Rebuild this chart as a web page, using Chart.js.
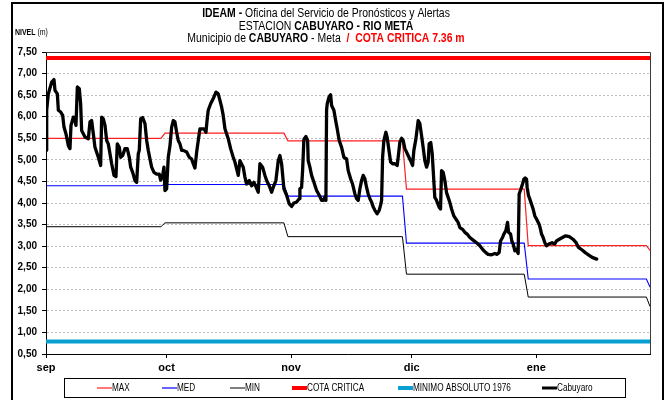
<!DOCTYPE html>
<html>
<head>
<meta charset="utf-8">
<script src="https://cdn.jsdelivr.net/npm/chart.js@4/dist/chart.umd.min.js"></script>
<style>
  html, body { margin: 0; padding: 0; background: #fff; }
  canvas { display: block; }
</style>
</head>
<body>
<canvas id="c" width="671" height="400"></canvas>
<script>
// ---- data: Cabuyaro station, Rio Meta (days counted from 1 September) ----
const monthLabels = ['sep', 'oct', 'nov', 'dic', 'ene'];
const monthStartDays = [0, 30, 61, 91, 122];
const yTickValues = [0.5, 1.0, 1.5, 2.0, 2.5, 3.0, 3.5, 4.0, 4.5, 5.0, 5.5, 6.0, 6.5, 7.0, 7.5];

// monthly reference levels (historical MAX / MED / MIN), stepping at month changes
const bandDays  = [0, 28.6, 29.6, 59.2, 60.2, 88.7, 89.7, 119, 120, 149.4, 150.3];
const maxLevels = [5.50, 5.50, 5.62, 5.62, 5.44, 5.44, 4.32, 4.32, 3.01, 3.01, 2.90];
const medLevels = [4.40, 4.40, 4.43, 4.43, 4.16, 4.16, 3.07, 3.07, 2.24, 2.24, 2.05];
const minLevels = [3.45, 3.45, 3.54, 3.54, 3.22, 3.22, 2.35, 2.35, 1.82, 1.82, 1.60];

const cotaCritica = 7.36;
const minimoAbsoluto1976 = 0.79;
const axisEndDay = 150.3;

// observed level at Cabuyaro
const cabuyaroDays = [
  0, 0.17, 0.58, 1.41, 1.99, 2.24, 2.82, 3.07, 3.65, 4.15, 4.48, 4.98, 5.56, 5.97, 6.22, 6.8, 7.21, 7.46, 7.80, 8.29,
  8.62, 8.87, 9.70, 10.53, 10.95, 11.36, 11.78, 12.19, 13.02, 13.6, 13.85, 14.26, 14.68, 15.1, 15.5, 15.92, 16.34, 16.92, 17.41, 17.74,
  18.24, 18.58, 19.08, 19.65, 20.22, 20.72, 21.07, 21.57, 22.14, 22.56, 22.96, 23.21, 23.56, 24.05, 24.63, 25.05, 25.45, 25.87, 26.29, 26.87,
  27.54, 28.18, 28.53, 29.03, 29.35, 29.6, 30.02, 30.42, 30.85, 31.27, 31.67, 32.09, 32.51, 32.91, 33.33, 33.76, 34.15, 35.0, 35.65, 36.24,
  36.64, 37.06, 37.49, 37.89, 38.31, 39.3, 39.8, 40.12, 40.37, 40.97, 41.62, 42.29, 42.86, 43.28, 43.71, 44.1, 44.53, 44.95, 45.35, 45.94,
  46.59, 47.01, 47.44, 47.84, 48.26, 49.08, 49.5, 49.92, 50.57, 51.17, 51.74, 52.24, 52.81, 53.23, 53.9, 54.48, 54.9, 55.55, 56.14, 56.54,
  57.21, 57.79, 58.21, 58.63, 59.2, 59.88, 60.52, 61.12, 61.69, 62.36, 63.0, 63.18, 63.6, 63.85, 64.18, 64.68, 65.1, 65.25, 65.67, 66.09,
  66.67, 67.34, 67.99, 68.58, 68.98, 69.4, 69.65, 69.82, 69.98, 70.47, 70.82, 71.07, 71.64, 72.14, 72.46, 72.96, 73.56, 74.13, 74.8, 75.2,
  75.8, 76.29, 76.87, 77.29, 77.69, 78.11, 78.53, 78.93, 79.35, 79.78, 80.17, 80.6, 81.02, 81.42, 81.84, 82.41, 82.91, 83.26, 83.51, 83.76,
  84.08, 84.58, 84.9, 85.4, 85.75, 86.24, 86.82, 87.39, 87.64, 88.06, 88.48, 88.88, 89.3, 90.12, 90.72, 91.22, 91.54, 92.04, 92.61, 93.03,
  93.46, 93.85, 94.28, 94.7, 95.1, 95.35, 95.75, 96.1, 96.45, 96.75, 97.1, 97.85, 98.18, 98.43, 98.83, 99.25, 99.67, 100.07, 100.5, 100.92,
  101.49, 101.99, 102.56, 102.99, 103.65, 104.23, 104.8, 105.47, 106.29, 107.14, 107.96, 108.78, 109.45, 110.02, 110.87, 111.69, 112.26, 112.76, 113.11, 113.6,
  113.93, 114.43, 114.85, 115.1, 115.6, 115.92, 116.25, 116.67, 117.09, 117.49, 117.74, 118.09, 118.58, 118.91, 119.23, 119.58, 119.73, 120.07, 120.4, 120.82,
  121.22, 121.64, 122.06, 122.71, 123.06, 123.31, 123.71, 124.13, 124.55, 125.10, 125.92, 126.59, 127.04, 127.73, 128.51, 129.32, 130.21, 131.13, 131.92, 132.50,
  133.41, 134.19, 134.98, 135.91, 137.03
];
const cabuyaroLevels = [
  5.22, 6.15, 6.53, 6.80, 6.86, 6.61, 6.53, 6.15, 6.11, 6.03, 5.76, 5.60, 5.33, 5.26, 5.80, 5.99, 5.91, 5.80, 6.69, 6.65,
  6.30, 5.68, 5.53, 5.49, 5.88, 5.91, 5.60, 5.29, 5.06, 4.87, 5.99, 5.95, 5.80, 5.45, 5.37, 5.14, 4.91, 4.64, 4.61, 5.37,
  5.29, 5.06, 5.10, 5.26, 5.26, 5.06, 4.83, 4.71, 4.52, 4.48, 5.14, 5.22, 5.95, 5.98, 5.84, 5.45, 5.22, 5.02, 4.83, 4.71,
  4.67, 4.67, 4.53, 4.64, 4.83, 4.29, 4.33, 5.06, 5.33, 5.76, 5.91, 5.88, 5.64, 5.45, 5.37, 5.22, 5.22, 5.18, 5.06, 5.02,
  4.91, 4.81, 5.18, 5.45, 5.72, 5.72, 5.64, 5.95, 6.15, 6.30, 6.42, 6.57, 6.53, 6.38, 6.22, 6.03, 5.72, 5.60, 5.49, 5.26,
  5.06, 4.95, 4.79, 4.64, 4.98, 4.83, 4.60, 4.44, 4.52, 4.40, 4.48, 4.38, 4.25, 4.91, 4.83, 4.64, 4.52, 4.40, 4.25, 4.36,
  4.52, 4.98, 5.10, 4.91, 4.33, 4.18, 3.98, 3.92, 4.00, 4.02, 4.10, 4.33, 4.36, 4.75, 5.48, 5.54, 5.45, 4.98, 4.83, 4.64,
  4.48, 4.29, 4.18, 4.06, 4.06, 4.14, 4.06, 6.15, 6.30, 6.47, 6.51, 6.26, 6.15, 5.88, 5.72, 5.45, 5.29, 5.06, 5.02, 4.75,
  4.56, 4.44, 4.21, 4.10, 4.06, 4.33, 4.52, 4.64, 4.56, 4.36, 4.21, 4.10, 4.02, 3.91, 3.83, 3.75, 3.83, 3.95, 4.06, 5.06,
  5.45, 5.64, 5.52, 5.18, 4.95, 4.91, 4.91, 4.87, 5.06, 5.41, 5.50, 5.45, 5.26, 5.10, 4.98, 4.87, 5.22, 5.48, 5.91, 5.84,
  5.56, 5.29, 4.98, 4.83, 4.95, 5.37, 5.40, 5.15, 4.60, 4.13, 4.08, 3.90, 3.86, 4.75, 4.71, 4.52, 4.24, 4.13, 4.01, 3.86,
  3.70, 3.63, 3.55, 3.43, 3.39, 3.32, 3.28, 3.20, 3.14, 3.08, 3.01, 2.91, 2.85, 2.81, 2.80, 2.83, 2.81, 2.85, 3.12, 3.20,
  3.28, 3.36, 3.55, 3.32, 3.28, 3.12, 3.05, 2.89, 2.93, 2.83, 4.21, 4.30, 4.44, 4.55, 4.58, 4.55, 4.36, 4.17, 4.09, 3.97,
  3.86, 3.70, 3.63, 3.51, 3.39, 3.28, 3.20, 3.08, 3.01, 3.05, 3.08, 3.05, 3.12, 3.16, 3.20, 3.24, 3.22, 3.16, 3.08, 2.97,
  2.91, 2.85, 2.80, 2.74, 2.70
];

// ---- helpers ----
const FAMILY = "'Liberation Sans', Arial, sans-serif";

const toPoints = (xs, ys) => xs.map((x, i) => ({ x, y: ys[i] }));
const flat = v => [{ x: 0, y: v }, { x: axisEndDay, y: v }];

// text drawn with a horizontal squeeze, for an Arial Narrow look
function partsWidth(ctx, parts, size, squeeze) {
  let w = 0;
  for (const p of parts) {
    ctx.font = (p.bold ? 'bold ' : '') + size + 'px ' + FAMILY;
    w += ctx.measureText(p.text).width * squeeze;
  }
  return w;
}
function drawParts(ctx, parts, x, y, size, squeeze) {
  for (const p of parts) {
    ctx.save();
    ctx.font = (p.bold ? 'bold ' : '') + size + 'px ' + FAMILY;
    ctx.fillStyle = p.color || '#000';
    ctx.textBaseline = 'alphabetic';
    ctx.translate(x, y);
    ctx.scale(squeeze, 1);
    ctx.fillText(p.text, 0, 0);
    const w = ctx.measureText(p.text).width * squeeze;
    ctx.restore();
    x += w;
  }
}

const titleLines = [
  [{ text: 'IDEAM - ', bold: true }, { text: 'Oficina del Servicio de Pronósticos y Alertas' }],
  [{ text: 'ESTACION ' }, { text: 'CABUYARO - RIO META', bold: true }],
  [{ text: 'Municipio de ' }, { text: 'CABUYARO', bold: true }, { text: ' - Meta  ' },
   { text: '/  ', bold: true, color: '#ff0000' }, { text: 'COTA CRITICA 7.36 m', bold: true, color: '#ff0000' }]
];

const legendItems = [
  { label: 'MAX', color: '#ff2020', width: 1.2, x: 97 },
  { label: 'MED', color: '#0000ff', width: 1.2, x: 162 },
  { label: 'MIN', color: '#000000', width: 1, x: 230 },
  { label: 'COTA CRITICA', color: '#ff0000', width: 4, x: 292 },
  { label: 'MINIMO ABSOLUTO 1976', color: '#0a9fd2', width: 4, x: 398 },
  { label: 'Cabuyaro', color: '#000000', width: 3, x: 542 }
];

// ---- page decoration: frame, plot border, titles, legend ----
const decor = {
  id: 'decor',
  beforeDraw(chart) {
    const ctx = chart.ctx;
    ctx.save();
    ctx.fillStyle = '#fff';
    ctx.fillRect(0, 0, chart.width, chart.height);
    ctx.restore();
  },
  beforeDatasetsDraw(chart) {
    const { ctx, chartArea: a } = chart;
    ctx.save();
    ctx.strokeStyle = '#3a3a3a';
    ctx.lineWidth = 1;
    ctx.beginPath();
    ctx.moveTo(a.left, a.top + 0.5);
    ctx.lineTo(a.right + 0.5, a.top + 0.5);
    ctx.lineTo(a.right + 0.5, a.bottom);
    ctx.stroke();
    ctx.restore();
  },
  afterDraw(chart) {
    const ctx = chart.ctx;
    ctx.save();
    // outer frame
    ctx.fillStyle = '#000';
    ctx.fillRect(11, 2, 2, 400);
    ctx.fillRect(11, 2, 653, 2);
    ctx.fillRect(662, 2, 2, 400);

    // title block
    const cx = 326;
    const baselines = [17, 29.5, 42];
    titleLines.forEach((parts, i) => {
      const w = partsWidth(ctx, parts, 12, 0.87);
      drawParts(ctx, parts, cx - w / 2, baselines[i], 12, 0.87);
    });

    // axis caption
    drawParts(ctx, [{ text: 'NIVEL', bold: true }, { text: ' (m)' }], 15, 34.5, 8.5, 0.82);

    // legend box
    ctx.strokeStyle = '#000';
    ctx.lineWidth = 1;
    ctx.strokeRect(64.5, 378.5, 561, 19);
    const ly = 388;
    for (const it of legendItems) {
      ctx.beginPath();
      ctx.strokeStyle = it.color;
      ctx.lineWidth = it.width;
      ctx.lineCap = 'butt';
      ctx.moveTo(it.x, ly);
      ctx.lineTo(it.x + 15, ly);
      ctx.stroke();
      ctx.save();
      ctx.font = '10px ' + FAMILY;
      ctx.fillStyle = '#000';
      ctx.textBaseline = 'middle';
      ctx.translate(it.x + 15, ly + 0.5);
      ctx.scale(0.82, 1);
      ctx.fillText(it.label, 0, 0);
      ctx.restore();
    }
    ctx.restore();
  }
};

const lineDefaults = { pointRadius: 0, pointHoverRadius: 0, tension: 0, fill: false };

new Chart(document.getElementById('c'), {
  type: 'line',
  data: {
    datasets: [
      Object.assign({ label: 'Cabuyaro', data: toPoints(cabuyaroDays, cabuyaroLevels), borderColor: '#000', borderWidth: 3.3,
        borderJoinStyle: 'round', borderCapStyle: 'round', order: 0 }, lineDefaults),
      Object.assign({ label: 'MAX', data: toPoints(bandDays, maxLevels), borderColor: '#ff2020', borderWidth: 1.2, order: 5 }, lineDefaults),
      Object.assign({ label: 'MED', data: toPoints(bandDays, medLevels), borderColor: '#0000ff', borderWidth: 1.1, order: 4 }, lineDefaults),
      Object.assign({ label: 'MIN', data: toPoints(bandDays, minLevels), borderColor: '#000', borderWidth: 1, order: 3 }, lineDefaults),
      Object.assign({ label: 'COTA CRITICA', data: flat(cotaCritica), borderColor: '#ff0000', borderWidth: 4, order: 2 }, lineDefaults),
      Object.assign({ label: 'MINIMO ABSOLUTO 1976', data: flat(minimoAbsoluto1976), borderColor: '#0a9fd2', borderWidth: 4, order: 1 }, lineDefaults)
    ]
  },
  options: {
    responsive: false,
    animation: false,
    layout: { padding: { left: 0, top: 52, right: 21, bottom: 0 } },
    plugins: { legend: { display: false }, title: { display: false }, tooltip: { enabled: false } },
    scales: {
      x: {
        type: 'linear',
        min: 0,
        max: axisEndDay,
        afterBuildTicks: s => { s.ticks = monthStartDays.map(v => ({ value: v })); },
        afterFit: s => { s.height = 46; },
        ticks: {
          autoSkip: false, maxRotation: 0, minRotation: 0, padding: 3,
          color: '#000', font: { family: FAMILY, size: 11, weight: 'bold' },
          callback: (v, i) => monthLabels[i]
        },
        grid: { drawOnChartArea: false, drawTicks: true, tickLength: 4, tickColor: '#000', color: '#000' },
        border: { color: '#000', width: 1 }
      },
      y: {
        type: 'linear',
        min: 0.5,
        max: 7.5,
        afterBuildTicks: s => { s.ticks = yTickValues.map(v => ({ value: v })); },
        afterFit: s => { s.width = 46; },
        ticks: {
          padding: 5, color: '#000', font: { family: FAMILY, size: 10, weight: 'bold' },
          callback: v => Number(v).toFixed(2).replace('.', ',')
        },
        grid: { color: '#bdbdbd', lineWidth: 1, tickLength: 4, tickColor: '#000', tickWidth: 1 },
        border: { color: '#000', width: 1, dash: [2, 2] }
      }
    }
  },
  plugins: [decor]
});
</script>
</body>
</html>
